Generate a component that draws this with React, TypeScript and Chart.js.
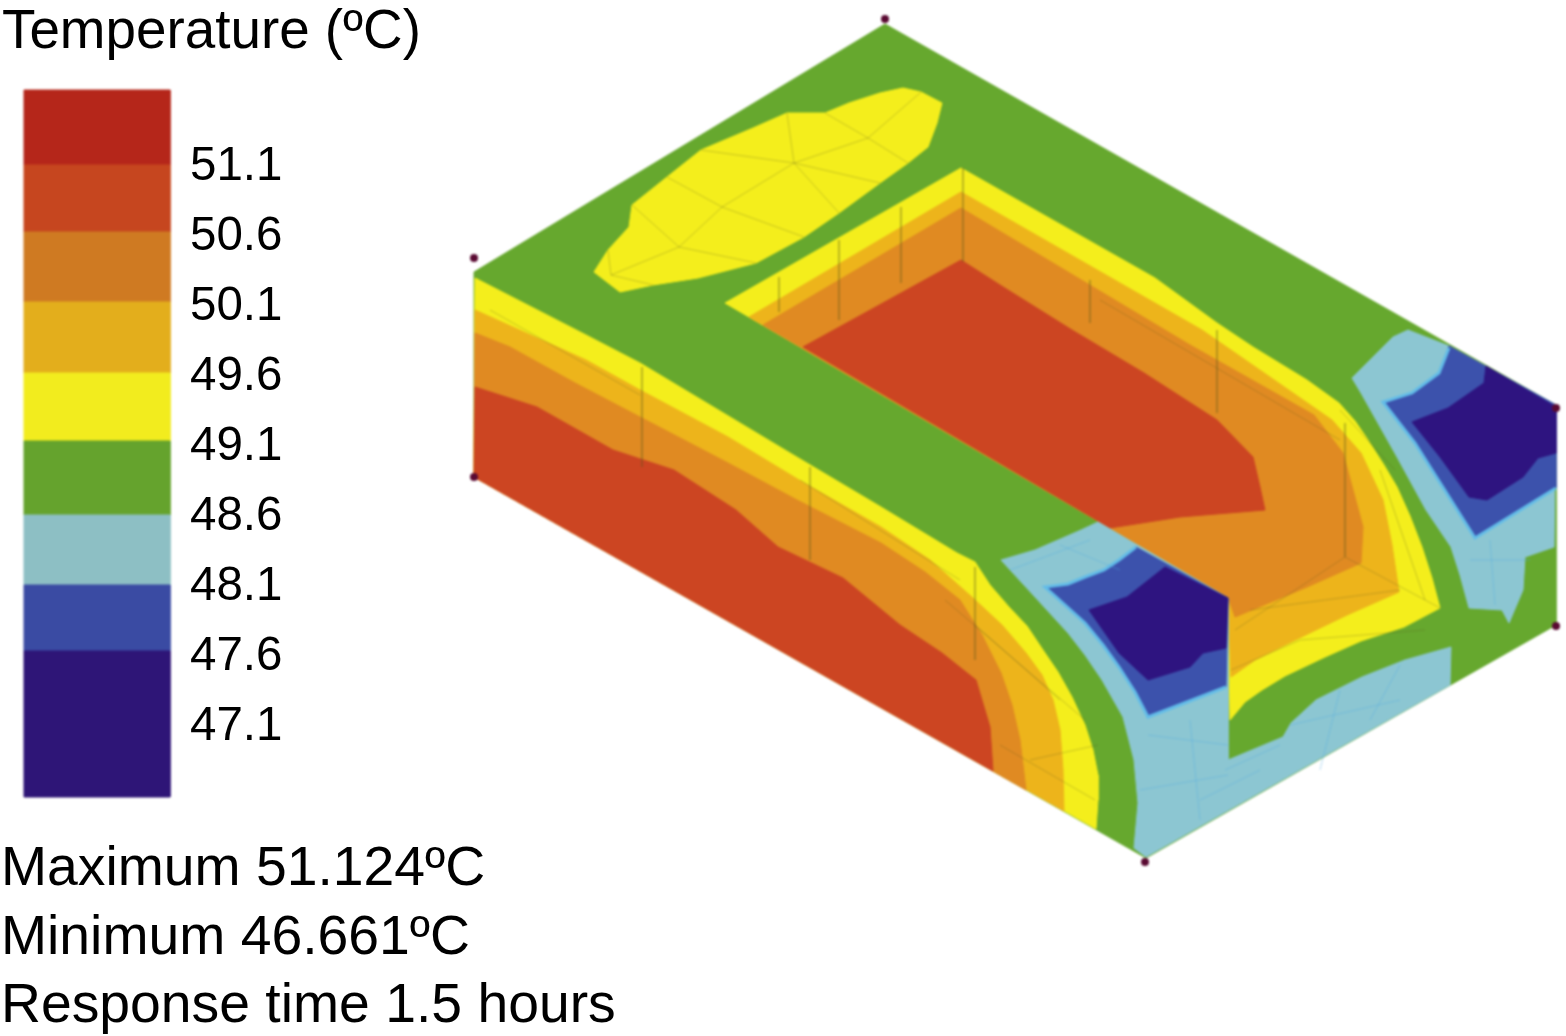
import React, { useEffect, useRef } from "react";
import { Chart, registerables } from "chart.js";

Chart.register(...registerables);

type P = [number, number];

const WIDTH = 1566;
const HEIGHT = 1036;

const titleText = "Temperature (ºC)";
const tickLabels = ["51.1", "50.6", "50.1", "49.6", "49.1", "48.6", "48.1", "47.6", "47.1"];
const tickBaselines = [180, 250, 320, 390, 460, 530, 600, 670, 740];
const statLines = ["Maximum 51.124ºC", "Minimum 46.661ºC", "Response time 1.5 hours"];
const statBaselines = [886, 955, 1023];

const legendEdges = [90, 165, 232, 302, 373, 441, 515, 585, 651, 797];
const legendColors = ["#b5261a", "#c6461f", "#cf7a22", "#e3ae1c", "#f2ec1e", "#65a32d", "#8dbfc4", "#3a4ba3", "#2e1577"];

const RED = "#cc4522";
const ORANGE = "#e08a22";
const GOLD = "#edb41b";
const YELLOW = "#f4ee1c";
const GREEN = "#66a82e";
const LIGHT = "#8cc6d2";
const BLUE = "#3c52ac";
const NAVY = "#2e1480";
const SKY = "#62bce8";

const silhouette: P[] = [[885, 24], [1556, 405], [1556, 625], [1146, 858], [474, 477], [474, 272]];
const island: P[] = [[903, 88], [921, 92], [942, 103], [937, 123], [928, 147], [908, 163], [880, 183], [839, 213], [804, 237], [756, 263], [698, 278], [653, 285], [620, 292], [594, 272], [608, 250], [629, 227], [632, 205], [667, 177], [701, 150], [753, 128], [787, 113], [825, 113], [849, 103], [880, 93]];

const pocketYellow: P[] = [[725, 303], [961, 168], [1155, 278], [1217, 323], [1253, 347], [1307, 380], [1339, 403], [1355, 421], [1368, 440], [1384, 465], [1397, 487], [1410, 516], [1422, 547], [1432, 578], [1440, 608], [1404, 627], [1361, 641], [1325, 657], [1285, 676], [1262, 690], [1245, 702], [1230, 720], [1228, 597]];
const pocketGold: P[] = [[749, 317], [961, 192], [1202, 330], [1332, 420], [1361, 453], [1383, 500], [1392, 545], [1399, 592], [1347, 615], [1289, 643], [1255, 660], [1231, 677], [1228, 597]];
const pocketOrange: P[] = [[763, 325], [961, 208], [1190, 345], [1314, 415], [1343, 453], [1363, 527], [1361, 563], [1307, 587], [1235, 617], [1228, 597]];
const pocketRed: P[] = [[803, 347], [961, 260], [1000, 285], [1072, 330], [1144, 373], [1217, 420], [1253, 457], [1260, 487], [1265, 510], [1180, 517], [1110, 528]];

const faceYellow: P[] = [[475, 278], [586, 335], [640, 363], [690, 393], [785, 450], [881, 507], [957, 553], [975, 562], [990, 585], [1009, 607], [1027, 626], [1043, 650], [1058, 672], [1072, 697], [1085, 725], [1093, 750], [1098, 775], [1098, 800], [1096, 829], [474, 477]];
const faceGold: P[] = [[475, 310], [586, 360], [640, 390], [728, 437], [804, 483], [881, 527], [930, 560], [973, 598], [1002, 625], [1026, 653], [1042, 675], [1053, 700], [1060, 730], [1063, 770], [1064, 811], [474, 477]];
const faceOrange: P[] = [[475, 333], [510, 347], [575, 383], [640, 417], [728, 463], [797, 500], [881, 543], [925, 572], [960, 600], [982, 635], [1001, 673], [1012, 705], [1020, 740], [1026, 790], [474, 477]];
const faceRed: P[] = [[475, 387], [537, 407], [613, 450], [674, 470], [736, 510], [778, 547], [843, 578], [900, 625], [942, 653], [976, 680], [990, 727], [993, 771], [474, 477]];

const frontLight: P[] = [[1001, 560], [1035, 550], [1081, 530], [1098, 522], [1228, 598], [1228, 760], [1283, 737], [1291, 723], [1316, 700], [1362, 677], [1405, 660], [1451, 647], [1450, 685], [1146, 857], [1134, 848], [1138, 803], [1134, 760], [1123, 717], [1102, 680], [1085, 655], [1068, 633], [1035, 597]];
const frontBlue: P[] = [[1045, 587], [1068, 584], [1085, 577], [1104, 570], [1119, 560], [1136, 547], [1228, 598], [1226, 687], [1148, 717], [1135, 692], [1119, 667], [1103, 645], [1085, 623]];
const frontNavy: P[] = [[1089, 610], [1127, 597], [1165, 567], [1228, 598], [1226, 648], [1203, 653], [1190, 667], [1148, 680], [1119, 653]];
const frontSkyEdges: P[][] = [
  [[1136, 547], [1119, 560], [1104, 570], [1085, 577], [1068, 584], [1045, 587], [1085, 623], [1103, 645], [1119, 667], [1135, 692], [1148, 717], [1226, 687]],
];

const rightLight: P[] = [[1352, 378], [1393, 337], [1408, 330], [1449, 346], [1556, 405], [1554, 547], [1525, 557], [1523, 590], [1509, 623], [1502, 610], [1469, 608], [1460, 575], [1451, 547], [1426, 510], [1397, 457], [1361, 393]];
const rightBlue: P[] = [[1383, 402], [1412, 393], [1439, 373], [1449, 346], [1556, 405], [1556, 488], [1475, 538], [1451, 500], [1432, 470], [1415, 443]];
const rightNavy: P[] = [[1412, 422], [1448, 408], [1484, 383], [1486, 366], [1556, 407], [1556, 453], [1538, 458], [1523, 477], [1487, 500], [1469, 497], [1440, 457]];
const rightSkyEdges: P[][] = [
  [[1449, 348], [1439, 373], [1412, 393], [1383, 402], [1415, 443], [1432, 470], [1451, 500], [1475, 538], [1556, 488]],
];

const warmMesh: P[][] = [
  [[963, 168], [963, 262]], [[901, 207], [901, 283]], [[839, 240], [839, 320]], [[779, 277], [779, 312]],
  [[642, 367], [642, 467]], [[810, 467], [810, 560]], [[975, 567], [975, 660]],
  [[1090, 280], [1090, 323]], [[1217, 330], [1217, 413]], [[1345, 423], [1345, 557]],
  [[611, 275], [679, 247], [722, 207], [794, 163], [868, 138], [921, 92]],
  [[667, 177], [722, 207], [804, 237]], [[701, 150], [794, 163], [880, 183]], [[787, 113], [794, 163], [839, 213]],
  [[825, 113], [868, 138], [908, 163]], [[632, 205], [679, 247], [756, 263]], [[608, 250], [611, 275], [653, 285]],
  [[1235, 630], [1345, 557], [1440, 608]], [[1231, 670], [1300, 640], [1425, 630]], [[1250, 610], [1400, 590]],
  [[975, 625], [1060, 700]], [[945, 600], [1085, 720]], [[1000, 745], [1095, 800]], [[1030, 760], [1098, 745]],
  [[1340, 410], [1395, 470]], [[1380, 470], [1425, 600]], [[1100, 300], [1340, 440]], [[490, 310], [640, 395]], [[800, 480], [960, 580]],
];
const coolMesh: P[][] = [
  [[1148, 735], [1228, 745]], [[1190, 720], [1200, 820]], [[1140, 790], [1228, 775]], [[1200, 800], [1260, 770]],
  [[1290, 725], [1400, 700]], [[1340, 690], [1320, 770]], [[1400, 665], [1370, 720]], [[1225, 770], [1280, 745]],
  [[1010, 570], [1090, 540]], [[1060, 545], [1120, 570]], [[1490, 540], [1495, 605]], [[1470, 560], [1530, 560]],
];
const nodeDots: P[] = [[885, 19], [474, 258], [474, 477], [1145, 862], [1556, 408], [1556, 626]];

const toPoints = (p: P[]) => p.map(([x, y]) => ({ x, y }));

function area(points: P[], color: string) {
  const closed = [...points, points[0]];
  return {
    data: toPoints(closed),
    showLine: true,
    fill: "shape",
    backgroundColor: color,
    borderColor: color,
    borderWidth: 1,
    pointRadius: 0,
    tension: 0,
  };
}

function strokes(lines: P[][], color: string, width = 1) {
  return lines.map((l) => ({
    data: toPoints(l),
    showLine: true,
    fill: false,
    borderColor: color,
    borderWidth: width,
    pointRadius: 0,
    tension: 0,
  }));
}

const legendBands = legendColors.map((c, i) => {
  const top = legendEdges[i];
  const bottom = legendEdges[i + 1];
  const band: P[] = [[24, top], [170, top], [170, bottom], [24, bottom]];
  return area(band, c);
});

const textStyle: React.CSSProperties = {
  position: "absolute",
  margin: 0,
  fontFamily: '"Liberation Sans", Arial, sans-serif',
  color: "#000",
  whiteSpace: "nowrap",
  lineHeight: 1,
};

export default function App() {
  const ref = useRef<HTMLCanvasElement | null>(null);

  useEffect(() => {
    // Chart.js paints dataset 0 last, so the list is reversed to paint in the listed order.
    const layers = [
      ...legendBands,
      area(silhouette, GREEN),
      area(island, YELLOW),
      area(pocketYellow, YELLOW),
      area(pocketGold, GOLD),
      area(pocketOrange, ORANGE),
      area(pocketRed, RED),
      area(faceYellow, YELLOW),
      area(faceGold, GOLD),
      area(faceOrange, ORANGE),
      area(faceRed, RED),
      area(frontLight, LIGHT),
      area(frontBlue, BLUE),
      ...strokes(frontSkyEdges, SKY, 3),
      area(frontNavy, NAVY),
      area(rightLight, LIGHT),
      area(rightBlue, BLUE),
      ...strokes(rightSkyEdges, SKY, 3),
      area(rightNavy, NAVY),
      ...strokes(warmMesh, "rgba(90,90,30,0.28)"),
      ...strokes(coolMesh, "rgba(80,170,225,0.4)"),
      {
        data: toPoints(nodeDots),
        showLine: false,
        pointRadius: 4,
        pointBackgroundColor: "#5a0a32",
        pointBorderWidth: 0,
      },
    ];
    const chart = new Chart(ref.current!, {
      type: "scatter",
      data: { datasets: layers.reverse() as any },
      options: {
        animation: false,
        responsive: false,
        layout: { padding: 0, autoPadding: false },
        plugins: { legend: { display: false }, tooltip: { enabled: false }, title: { display: false } },
        scales: {
          x: { type: "linear", display: false, min: 0, max: WIDTH },
          y: { type: "linear", display: false, min: 0, max: HEIGHT, reverse: true },
        },
      },
    });
    return () => chart.destroy();
  }, []);

  return (
    <div style={{ position: "absolute", left: 0, top: 0, width: WIDTH, height: HEIGHT, background: "#fff", overflow: "hidden" }}>
      <canvas ref={ref} width={WIDTH} height={HEIGHT} style={{ display: "block", filter: "blur(1px)" }} />
      <div style={{ ...textStyle, left: 2, top: 2, fontSize: 54.8 }}>{titleText}</div>
      {tickLabels.map((t, i) => (
        <div key={t} style={{ ...textStyle, left: 190, top: tickBaselines[i] - 40, fontSize: 47.5 }}>{t}</div>
      ))}
      {statLines.map((t, i) => (
        <div key={t} style={{ ...textStyle, left: 1, top: statBaselines[i] - 47, fontSize: 55.3 }}>{t}</div>
      ))}
    </div>
  );
}
